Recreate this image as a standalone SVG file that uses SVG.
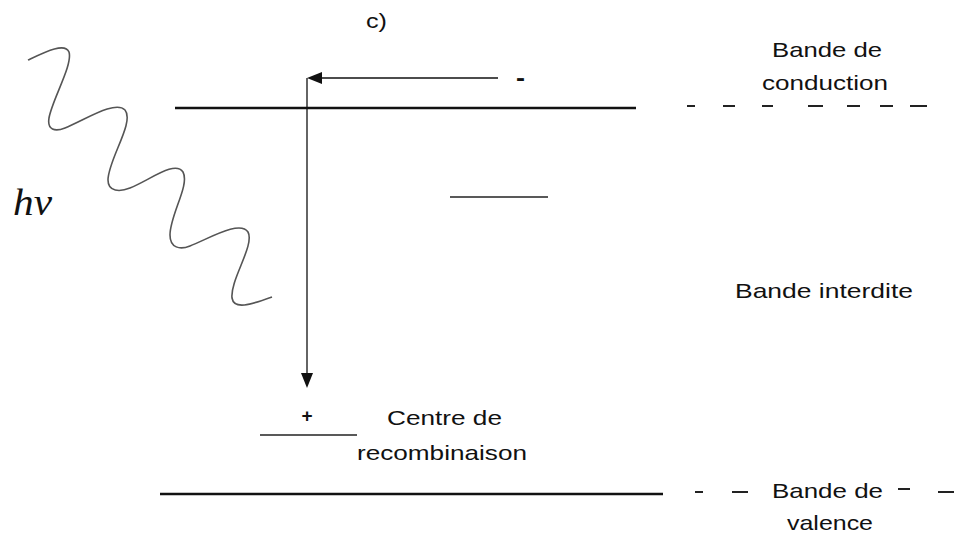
<svg xmlns="http://www.w3.org/2000/svg" width="954" height="548" viewBox="0 0 954 548">
<style>
.t{font-family:"Liberation Sans",Arial,sans-serif;font-size:21px;fill:#111}
.band{stroke:#111;stroke-width:2.5;fill:none}
.dash{stroke:#222;stroke-width:2;fill:none}
.lvl{stroke:#222;stroke-width:1.5;fill:none}
.arr{stroke:#111;stroke-width:1.3;fill:none}
.wave{stroke:#555;stroke-width:1.6;fill:none}
</style>
<rect width="954" height="548" fill="#fff"/>
<text class="t" x="366" y="28" textLength="21" lengthAdjust="spacingAndGlyphs">c)</text>
<g id="photon">
<path class="wave" d="M28,60 C45,52 65,42 69,52 C73,65 52,100 49,118 C47,130 55,132 65,128 C85,120 115,100 125,110 C135,122 108,160 108,180 C108,192 120,192 130,188 C150,180 175,160 183,172 C190,185 170,215 170,235 C170,248 180,250 190,246 C210,238 240,220 248,232 C255,245 230,280 232,298 C234,310 250,305 272,297"/>
<text x="13" y="215" font-family="'Liberation Serif','Times New Roman',serif" font-style="italic" font-size="37" fill="#111" textLength="39" lengthAdjust="spacingAndGlyphs">hν</text>
</g>
<g id="conduction-band">
<line class="band" x1="175" y1="108" x2="636" y2="108"/>
<path class="dash" d="M687,106H695 M723,106H735 M762,106H773 M808,106H823 M847,106H860 M880,106H893 M910,106H927"/>
<text class="t" x="772" y="57" textLength="110" lengthAdjust="spacingAndGlyphs">Bande de</text>
<text class="t" x="762" y="90" textLength="126" lengthAdjust="spacingAndGlyphs">conduction</text>
</g>
<g id="electron">
<text x="516" y="86" font-family="'Liberation Sans',Arial,sans-serif" font-weight="bold" font-size="24" fill="#111" textLength="9" lengthAdjust="spacingAndGlyphs">-</text>
</g>
<g id="trap-level">
<line class="lvl" x1="450" y1="197" x2="548" y2="197"/>
</g>
<g id="gap">
<text class="t" x="735" y="298" textLength="178" lengthAdjust="spacingAndGlyphs">Bande interdite</text>
</g>
<g id="recombination-centre">
<line class="lvl" x1="260" y1="435" x2="357" y2="435"/>
<text x="301.5" y="422" font-family="'Liberation Sans',Arial,sans-serif" font-weight="bold" font-size="19" fill="#111">+</text>
<text class="t" x="387" y="425" textLength="115" lengthAdjust="spacingAndGlyphs">Centre de</text>
<text class="t" x="357" y="460" textLength="170" lengthAdjust="spacingAndGlyphs">recombinaison</text>
</g>
<g id="valence-band">
<line class="band" x1="160" y1="494" x2="663" y2="494"/>
<path class="dash" d="M695,492H703 M732,492H748 M898,489H910 M938,492H954"/>
<text class="t" x="772" y="498" textLength="111" lengthAdjust="spacingAndGlyphs">Bande de</text>
<text class="t" x="787" y="530" textLength="86" lengthAdjust="spacingAndGlyphs">valence</text>
</g>
<g id="connectors">
<line class="arr" x1="498" y1="78" x2="320" y2="78"/>
<polygon points="307,78 322,72 322,84" fill="#111"/>
<line class="arr" x1="307" y1="78" x2="307" y2="375"/>
<polygon points="307,388 301,373 313,373" fill="#111"/>
</g>
</svg>
